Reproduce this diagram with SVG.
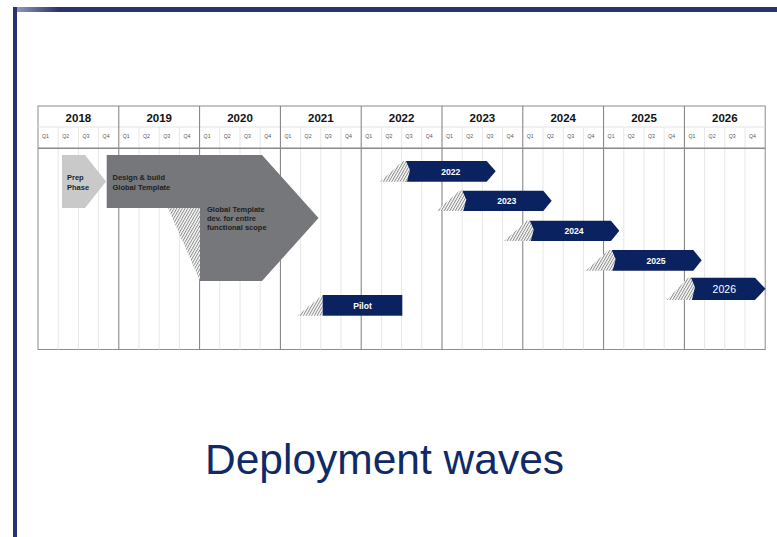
<svg xmlns="http://www.w3.org/2000/svg" width="777" height="537" viewBox="0 0 777 537">
<defs>
<pattern id="hatch" patternUnits="userSpaceOnUse" width="2.4" height="2.4" patternTransform="rotate(30)">
<rect width="2.4" height="2.4" fill="#ffffff"/>
<rect x="0" y="0" width="1" height="2.4" fill="#8a8a8a"/>
</pattern>
<linearGradient id="topfade" x1="0" y1="0" x2="1" y2="0">
<stop offset="0" stop-color="#9aa1bd"/>
<stop offset="0.06" stop-color="#28346b"/>
<stop offset="1" stop-color="#28346b"/>
</linearGradient>
<style>
.yr{font-family:"Liberation Sans",Arial,sans-serif;font-weight:bold;font-size:11.5px;fill:#111;text-anchor:middle}
.q{font-family:"Liberation Sans",Arial,sans-serif;font-size:5.2px;fill:#555}
.ql{stroke:#e6e6e6;stroke-width:1}
.yl{stroke:#7d7d7d;stroke-width:1}
.lbl{font-family:"Liberation Sans",Arial,sans-serif;font-weight:bold;font-size:7.5px;fill:#1e1e1e}
.wv{fill:#0b2260}
.wt{font-family:"Liberation Sans",Arial,sans-serif;font-weight:bold;font-size:8.6px;fill:#ffffff;text-anchor:middle}
.hatch{fill:url(#hatch)}
</style>
</defs>
<rect width="777" height="537" fill="#ffffff"/>
<g id="frame">
<rect x="13" y="7" width="764" height="5" fill="url(#topfade)"/>
<rect x="13" y="7" width="4" height="530" fill="#28346b"/>
</g>
<g id="grid">
<rect x="38" y="106" width="727.2" height="243.5" fill="#ffffff" stroke="#8c8c8c" stroke-width="1"/>
<line x1="38" y1="127" x2="765.2" y2="127" stroke="#e2e2e2"/>
<g class="ql">
<line x1="58.2" y1="127" x2="58.2" y2="349.5"/><line x1="78.4" y1="127" x2="78.4" y2="349.5"/><line x1="98.6" y1="127" x2="98.6" y2="349.5"/>
<line x1="139" y1="127" x2="139" y2="349.5"/><line x1="159.2" y1="127" x2="159.2" y2="349.5"/><line x1="179.4" y1="127" x2="179.4" y2="349.5"/>
<line x1="219.8" y1="127" x2="219.8" y2="349.5"/><line x1="240" y1="127" x2="240" y2="349.5"/><line x1="260.2" y1="127" x2="260.2" y2="349.5"/>
<line x1="300.6" y1="127" x2="300.6" y2="349.5"/><line x1="320.8" y1="127" x2="320.8" y2="349.5"/><line x1="341" y1="127" x2="341" y2="349.5"/>
<line x1="381.4" y1="127" x2="381.4" y2="349.5"/><line x1="401.6" y1="127" x2="401.6" y2="349.5"/><line x1="421.8" y1="127" x2="421.8" y2="349.5"/>
<line x1="462.2" y1="127" x2="462.2" y2="349.5"/><line x1="482.4" y1="127" x2="482.4" y2="349.5"/><line x1="502.6" y1="127" x2="502.6" y2="349.5"/>
<line x1="543" y1="127" x2="543" y2="349.5"/><line x1="563.2" y1="127" x2="563.2" y2="349.5"/><line x1="583.4" y1="127" x2="583.4" y2="349.5"/>
<line x1="623.8" y1="127" x2="623.8" y2="349.5"/><line x1="644" y1="127" x2="644" y2="349.5"/><line x1="664.2" y1="127" x2="664.2" y2="349.5"/>
<line x1="704.6" y1="127" x2="704.6" y2="349.5"/><line x1="724.8" y1="127" x2="724.8" y2="349.5"/><line x1="745" y1="127" x2="745" y2="349.5"/>
</g>
<g class="yl">
<line x1="118.8" y1="106" x2="118.8" y2="349.5"/><line x1="199.6" y1="106" x2="199.6" y2="349.5"/><line x1="280.4" y1="106" x2="280.4" y2="349.5"/>
<line x1="361.2" y1="106" x2="361.2" y2="349.5"/><line x1="442" y1="106" x2="442" y2="349.5"/><line x1="522.8" y1="106" x2="522.8" y2="349.5"/>
<line x1="603.6" y1="106" x2="603.6" y2="349.5"/><line x1="684.4" y1="106" x2="684.4" y2="349.5"/>
</g>
<line x1="38" y1="148.3" x2="765.2" y2="148.3" stroke="#8a8a8a" stroke-width="1.4"/>
<g>
<text class="yr" x="78.4" y="121.5">2018</text><text class="yr" x="159.2" y="121.5">2019</text><text class="yr" x="240" y="121.5">2020</text>
<text class="yr" x="320.8" y="121.5">2021</text><text class="yr" x="401.6" y="121.5">2022</text><text class="yr" x="482.4" y="121.5">2023</text>
<text class="yr" x="563.2" y="121.5">2024</text><text class="yr" x="644" y="121.5">2025</text><text class="yr" x="724.8" y="121.5">2026</text>
</g>
<g class="q">
<text x="42" y="137.5">Q1</text><text x="62.2" y="137.5">Q2</text><text x="82.4" y="137.5">Q3</text><text x="102.6" y="137.5">Q4</text>
<text x="122.8" y="137.5">Q1</text><text x="143" y="137.5">Q2</text><text x="163.2" y="137.5">Q3</text><text x="183.4" y="137.5">Q4</text>
<text x="203.6" y="137.5">Q1</text><text x="223.8" y="137.5">Q2</text><text x="244" y="137.5">Q3</text><text x="264.2" y="137.5">Q4</text>
<text x="284.4" y="137.5">Q1</text><text x="304.6" y="137.5">Q2</text><text x="324.8" y="137.5">Q3</text><text x="345" y="137.5">Q4</text>
<text x="365.2" y="137.5">Q1</text><text x="385.4" y="137.5">Q2</text><text x="405.6" y="137.5">Q3</text><text x="425.8" y="137.5">Q4</text>
<text x="446" y="137.5">Q1</text><text x="466.2" y="137.5">Q2</text><text x="486.4" y="137.5">Q3</text><text x="506.6" y="137.5">Q4</text>
<text x="526.8" y="137.5">Q1</text><text x="547" y="137.5">Q2</text><text x="567.2" y="137.5">Q3</text><text x="587.4" y="137.5">Q4</text>
<text x="607.6" y="137.5">Q1</text><text x="627.8" y="137.5">Q2</text><text x="648" y="137.5">Q3</text><text x="668.2" y="137.5">Q4</text>
<text x="688.4" y="137.5">Q1</text><text x="708.6" y="137.5">Q2</text><text x="728.8" y="137.5">Q3</text><text x="749" y="137.5">Q4</text>
</g>
</g>
<g id="prep-phase">
<polygon points="62,155 85,155 106,181.5 85,208 62,208" fill="#c9c9c9"/>
<text class="lbl" x="67" y="180">Prep</text>
<text class="lbl" x="67" y="190">Phase</text>
</g>
<g id="global-template">
<polygon class="hatch" points="168,208 200,208 200,281"/>
<polygon points="106.7,155 262,155 318.5,218 262,281 200,281 200,208 106.7,208" fill="#75777a"/>
<text class="lbl" x="112.5" y="180">Design &amp; build</text>
<text class="lbl" x="112.5" y="190">Global Template</text>
<text class="lbl" x="207" y="212">Global Template</text>
<text class="lbl" x="207" y="221">dev. for entire</text>
<text class="lbl" x="207" y="230">functional scope</text>
</g>
<g id="pilot">
<polygon class="hatch" points="297.3,315.7 322.7,295 322.7,315.7"/>
<rect x="322.7" y="295" width="79.6" height="20.7" class="wv"/>
<text class="wt" x="362.5" y="308.5">Pilot</text>
</g>
<g id="wave-2022">
<polygon class="wv" points="406,161 486.7,161 495.7,171.3 486.7,181.7 406,181.7"/>
<polygon class="hatch" points="380,181.7 403,161 406,161 410,170 407,181.7"/>
<text class="wt" x="450.7" y="174.5">2022</text>
</g>
<g id="wave-2023">
<polygon class="wv" points="462.3,190.7 543.3,190.7 551.7,200.8 543.3,211 462.3,211"/>
<polygon class="hatch" points="436.7,211 459.3,190.7 462.3,190.7 466.3,199.5 463.3,211"/>
<text class="wt" x="506.7" y="204">2023</text>
</g>
<g id="wave-2024">
<polygon class="wv" points="529.8,220.7 611,220.7 619.3,230.8 611,241 529.8,241"/>
<polygon class="hatch" points="504,241 526.8,220.7 529.8,220.7 533.8,229.5 530.8,241"/>
<text class="wt" x="574" y="234">2024</text>
</g>
<g id="wave-2025">
<polygon class="wv" points="611.7,250 693.3,250 701.7,260.3 693.3,270.7 611.7,270.7"/>
<polygon class="hatch" points="585.7,270.7 608.7,250 611.7,250 615.7,259 612.7,270.7"/>
<text class="wt" x="656" y="263.5">2025</text>
</g>
<g id="wave-2026">
<polygon class="wv" points="691,277.7 755,277.7 765.5,288.8 755,300 691,300"/>
<polygon class="hatch" points="666.7,300 688,277.7 691,277.7 695,287 692,300"/>
<text x="724.3" y="292.8" font-family="Liberation Sans, Arial, sans-serif" font-size="10.5" fill="#ffffff" text-anchor="middle">2026</text>
</g>
<g id="connectors"/>
<g id="title">
<text x="205" y="474" font-family="Liberation Sans, Arial, sans-serif" font-size="42.5" fill="#0f2a66">Deployment waves</text>
</g>
</svg>
